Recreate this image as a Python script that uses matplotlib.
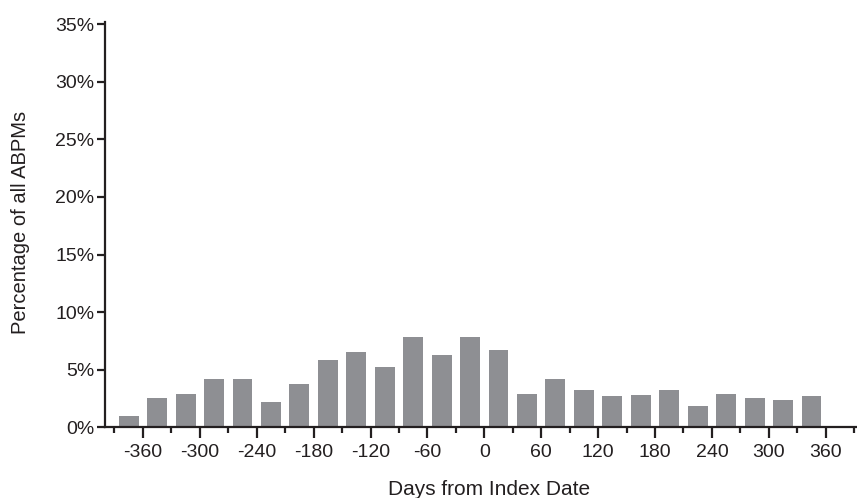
import matplotlib.pyplot as plt
from matplotlib.ticker import MultipleLocator, PercentFormatter

plt.rcParams['font.family'] = ['Liberation Sans', 'DejaVu Sans']

# bin centres (days) and share of all ABPMs (%)
days = [-375, -345, -315, -285, -255, -225, -195, -165, -135, -105, -75, -45, -15,
        15, 45, 75, 105, 135, 165, 195, 225, 255, 285, 315, 345]
pct = [1.0, 2.55, 2.9, 4.2, 4.2, 2.2, 3.8, 5.8, 6.55, 5.25, 7.85, 6.3, 7.8,
       6.75, 2.9, 4.2, 3.25, 2.75, 2.8, 3.25, 1.85, 2.9, 2.55, 2.4, 2.75]
xticks = list(range(-360, 361, 60))
yticks = [0, 5, 10, 15, 20, 25, 30, 35]

fig = plt.figure(figsize=(8.57, 4.98), dpi=100)
ax = fig.add_axes([0.1225, 0.142, 0.8775, 0.814])

ax.bar(days, pct, width=21, color='#8e8f93')

ax.set_xlim(-400, 393)
ax.set_ylim(0, 35.2)
ax.set_xticks(xticks)
ax.set_xticklabels([str(t) for t in xticks])
ax.xaxis.set_minor_locator(MultipleLocator(30))
ax.set_yticks(yticks)
ax.yaxis.set_major_formatter(PercentFormatter(decimals=0))

for s in ['top', 'right']:
    ax.spines[s].set_visible(False)
for s in ['left', 'bottom']:
    ax.spines[s].set_linewidth(1.6)
    ax.spines[s].set_color('#231f20')

ax.tick_params(axis='x', which='major', length=8, width=1.6, color='#231f20',
               labelsize=14, labelcolor='#231f20', pad=4)
ax.tick_params(axis='x', which='minor', length=4, width=1.6, color='#231f20')
ax.tick_params(axis='y', which='major', length=6, width=1.6, color='#231f20',
               labelsize=14, labelcolor='#231f20', pad=1.5)

ax.set_xlabel('Days from Index Date', fontsize=15, color='#231f20', va='baseline')
ax.xaxis.set_label_coords(0.511, -0.168)
ax.set_ylabel('Percentage of all ABPMs', fontsize=14.5, color='#231f20', va='center')
ax.yaxis.set_label_coords(-0.113, 0.505)

fig.savefig('out.png', dpi=100)
